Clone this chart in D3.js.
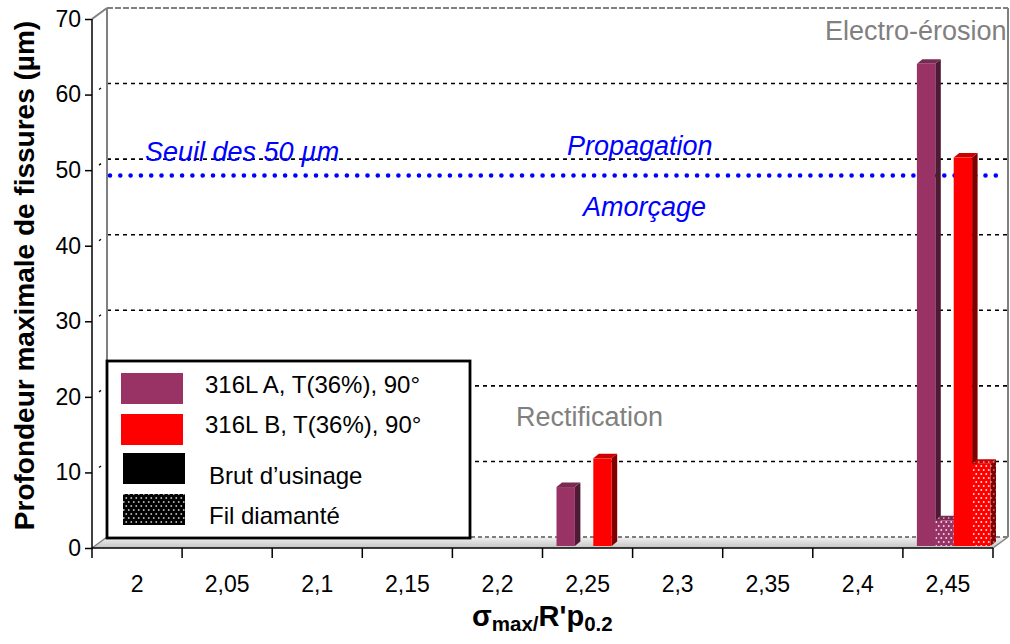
<!DOCTYPE html>
<html><head><meta charset="utf-8">
<script src="https://cdn.jsdelivr.net/npm/d3@7"></script>
<style>body{margin:0;background:#fff} svg{display:block;font-family:"Liberation Sans",Arial,sans-serif}</style>
</head><body>
<svg id="chart" width="1010" height="644"></svg>
<script>
// ---- data ----
const categories = ["2","2,05","2,1","2,15","2,2","2,25","2,3","2,35","2,4","2,45"];
const legendLabels = ["316L A, T(36%), 90°","316L B, T(36%), 90°","Brut d’usinage","Fil diamanté"];
const seriesKeys = ["aBrut","aFil","bBrut","bFil"];
const aBrut = [null,null,null,null,null,7.8,null,null,null,63.8];
const aFil  = [null,null,null,null,null,null,null,null,null,3.4];
const bBrut = [null,null,null,null,null,11.6,null,null,null,51.4];
const bFil  = [null,null,null,null,null,null,null,null,null,10.9];
const yTicks = [0,10,20,30,40,50,60,70];
const gridValues = [10,20,30,40,50,60];
const seuil = 49.3;

const seriesValues = {aBrut, aFil, bBrut, bFil};

// ---- layout ----
const svg = d3.select("#chart");
const X0 = 92, X1 = 993, Y0 = 548, Y1 = 19;
const DX = 15, DY = -11;          // depth of the 3D box
const BDX = 5.5, BDY = -4.5;       // depth of a bar

const x = d3.scaleBand().domain(categories).range([X0, X1]).padding(0);
const xi = d3.scaleBand().domain(seriesKeys).range([14, 14 + 73.6]).padding(0);
const y = d3.scaleLinear().domain([0, 70]).range([Y0, Y1]);

const defs = svg.append("defs");
function dotPattern(id, bg, dot) {
  const p = defs.append("pattern").attr("id", id).attr("patternUnits", "userSpaceOnUse")
    .attr("width", 5).attr("height", 8);
  p.append("rect").attr("width", 5).attr("height", 8).attr("fill", bg);
  p.append("circle").attr("cx", 1.25).attr("cy", 2).attr("r", 0.95).attr("fill", dot);
  p.append("circle").attr("cx", 3.75).attr("cy", 6).attr("r", 0.95).attr("fill", dot);
}
dotPattern("pPurple", "#993366", "#f4dbe6");
dotPattern("pPurpleSide", "#4d1a33", "#a0708a");
dotPattern("pPurpleTop", "#7a2952", "#c79ab0");
dotPattern("pRed", "#ff0000", "#ffe0e0");
dotPattern("pRedSide", "#800000", "#c07070");
dotPattern("pRedTop", "#cc0000", "#f09090");
dotPattern("pBlack", "#000000", "#bbbbbb");

const grad = defs.append("linearGradient").attr("id", "floorGrad").attr("x1", 0).attr("y1", 0).attr("x2", 0).attr("y2", 1);
grad.append("stop").attr("offset", "0%").attr("stop-color", "#f2f2f2");
grad.append("stop").attr("offset", "100%").attr("stop-color", "#c4c4c4");

const styles = {
  aBrut: {front: "#993366", side: "#4d1a33", top: "#7a2952"},
  aFil:  {front: "url(#pPurple)", side: "url(#pPurpleSide)", top: "url(#pPurpleTop)"},
  bBrut: {front: "#ff0000", side: "#800000", top: "#cc0000"},
  bFil:  {front: "url(#pRed)", side: "url(#pRedSide)", top: "url(#pRedTop)"}
};

// ---- back wall & floor ----
const wall = svg.append("g");
wall.append("polygon")
  .attr("points", [[X0, Y0], [X0 + DX, Y0 + DY], [X1 + DX, Y0 + DY], [X1, Y0]].join(" "))
  .attr("fill", "url(#floorGrad)").attr("stroke", "none");
wall.append("line").attr("x1", X0 + DX).attr("x2", X1 + DX).attr("y1", Y0 + DY).attr("y2", Y0 + DY)
  .attr("stroke", "#555").attr("stroke-width", 1.5).attr("stroke-dasharray", "4,3");
wall.append("line").attr("x1", X1).attr("y1", Y0).attr("x2", X1 + DX).attr("y2", Y0 + DY)
  .attr("stroke", "#808080").attr("stroke-width", 1.5);

// gridlines on back wall
wall.selectAll("line.grid").data(gridValues).join("line").attr("class", "grid")
  .attr("x1", X0 + DX).attr("x2", X1 + DX)
  .attr("y1", d => y(d) + DY).attr("y2", d => y(d) + DY)
  .attr("stroke", "#000").attr("stroke-width", 1.6).attr("stroke-dasharray", "4,4");
// little depth stubs
wall.selectAll("line.stub").data(gridValues).join("line").attr("class", "stub")
  .attr("x1", X0 + 7).attr("x2", X0 + 9)
  .attr("y1", d => y(d) - 5).attr("y2", d => y(d) - 6.5)
  .attr("stroke", "#000").attr("stroke-width", 1.3);

// wall borders
wall.append("line").attr("x1", X0 + DX).attr("x2", X0 + DX).attr("y1", y(70) + DY).attr("y2", Y0 + DY)
  .attr("stroke", "#808080").attr("stroke-width", 2);
wall.append("line").attr("x1", X1 + DX).attr("x2", X1 + DX).attr("y1", y(70) + DY).attr("y2", Y0 + DY)
  .attr("stroke", "#808080").attr("stroke-width", 2);
wall.append("line").attr("x1", X0 + DX).attr("x2", X1 + DX).attr("y1", y(70) + DY).attr("y2", y(70) + DY)
  .attr("stroke", "#808080").attr("stroke-width", 2).attr("stroke-dasharray", "6,2");
wall.append("line").attr("x1", X0).attr("y1", y(70)).attr("x2", X0 + DX).attr("y2", y(70) + DY)
  .attr("stroke", "#808080").attr("stroke-width", 2);
wall.append("line").attr("x1", X0).attr("y1", Y0).attr("x2", X0 + DX).attr("y2", Y0 + DY)
  .attr("stroke", "#808080").attr("stroke-width", 1.5);

// ---- threshold line (behind bars) ----
const ann = svg.append("g");
ann.append("line").attr("x1", X0 + 18).attr("x2", X1 + 7)
  .attr("y1", y(seuil)).attr("y2", y(seuil))
  .attr("stroke", "#0000ff").attr("stroke-width", 4.6).attr("stroke-linecap", "round")
  .attr("stroke-dasharray", "0,10.3");

// ---- bars ----
const barsG = svg.append("g");
const bw = xi.bandwidth();
categories.forEach((c, ci) => {
  seriesKeys.forEach(k => {
    const v = seriesValues[k][ci];
    if (v == null) return;
    const bx = x(c) + xi(k);
    const yb = y(0) - 2, yt = y(v) - 2;
    const st = styles[k];
    barsG.append("polygon")
      .attr("points", [[bx + bw, yb], [bx + bw + BDX, yb + BDY], [bx + bw + BDX, yt + BDY], [bx + bw, yt]].join(" "))
      .attr("fill", st.side);
    barsG.append("polygon")
      .attr("points", [[bx, yt], [bx + BDX, yt + BDY], [bx + bw + BDX, yt + BDY], [bx + bw, yt]].join(" "))
      .attr("fill", st.top);
    barsG.append("rect").attr("x", bx).attr("y", yt).attr("width", bw).attr("height", yb - yt)
      .attr("fill", st.front);
  });
});

// ---- axes ----
const yAxis = svg.append("g").attr("transform", `translate(${X0},0)`)
  .call(d3.axisLeft(y).tickValues(yTicks).tickSize(7).tickPadding(4).tickFormat(d3.format("d")));
yAxis.select(".domain").attr("stroke", "#000").attr("stroke-width", 1.5).attr("d", `M0,${Y1}V${Y0}`);
yAxis.selectAll(".tick line").attr("stroke", "#000").attr("stroke-width", 1.5);
yAxis.selectAll(".tick text").attr("font-size", 23).attr("fill", "#000")
  .attr("font-family", "Liberation Sans, Arial, sans-serif");

const xAxis = svg.append("g").attr("transform", `translate(0,${Y0})`)
  .call(d3.axisBottom(x).tickSize(0).tickPadding(28));
xAxis.select(".domain").attr("stroke", "#000").attr("stroke-width", 1.5).attr("d", `M${X0},0H${X1}`);
xAxis.selectAll(".tick text").attr("font-size", 23).attr("fill", "#000")
  .attr("font-family", "Liberation Sans, Arial, sans-serif");
// boundary ticks
const bounds = categories.map(c => x(c)).concat([X1]);
xAxis.selectAll("line.bt").data(bounds).join("line").attr("class", "bt")
  .attr("x1", d => d).attr("x2", d => d).attr("y1", 0).attr("y2", 10)
  .attr("stroke", "#000").attr("stroke-width", 1.5);

// ---- titles ----
svg.append("text").attr("transform", `translate(34,${(Y0 + Y1) / 2 - 8}) rotate(-90)`)
  .attr("text-anchor", "middle").attr("font-weight", "bold").attr("font-size", 28)
  .text("Profondeur maximale de fissures (µm)");

const xt = svg.append("text").attr("x", 472).attr("y", 626).attr("font-weight", "bold").attr("font-size", 29);
xt.append("tspan").text("σ");
xt.append("tspan").attr("font-size", 20.5).attr("dy", 5).text("max/");
xt.append("tspan").attr("dy", -5).text("R'p");
xt.append("tspan").attr("font-size", 20.5).attr("dy", 5).text("0.2");

// ---- text annotations ----
const blueTexts = [
  {t: "Seuil des 50 µm", x: 145, y: 161},
  {t: "Propagation", x: 567, y: 155},
  {t: "Amorçage", x: 583, y: 216}
];
svg.selectAll("text.blue").data(blueTexts).join("text").attr("class", "blue")
  .attr("x", d => d.x).attr("y", d => d.y).attr("fill", "#0000ff")
  .attr("font-style", "italic").attr("font-size", 27).text(d => d.t);

const grayTexts = [
  {t: "Electro-érosion", x: 825, y: 40},
  {t: "Rectification", x: 516, y: 426}
];
svg.selectAll("text.gray").data(grayTexts).join("text").attr("class", "gray")
  .attr("x", d => d.x).attr("y", d => d.y).attr("fill", "#808080")
  .attr("font-size", 27).text(d => d.t);

// ---- legend ----
const lg = svg.append("g");
lg.append("rect").attr("x", 107).attr("y", 361).attr("width", 363).attr("height", 177)
  .attr("fill", "#fff").attr("stroke", "#000").attr("stroke-width", 2.8);
const legendSw = [
  {fill: "#993366", sx: 121, sy: 373, tx: 205, ty: 393},
  {fill: "#ff0000", sx: 121, sy: 414, tx: 205, ty: 433},
  {fill: "#000000", sx: 123, sy: 453, tx: 209, ty: 484},
  {fill: "url(#pBlack)", sx: 123, sy: 494, tx: 209, ty: 524}
];
legendSw.forEach((d, i) => {
  lg.append("rect").attr("x", d.sx).attr("y", d.sy).attr("width", 62).attr("height", 31).attr("fill", d.fill);
  lg.append("text").attr("x", d.tx).attr("y", d.ty).attr("font-size", 24).attr("fill", "#000").text(legendLabels[i]);
});
</script>
</body></html>
